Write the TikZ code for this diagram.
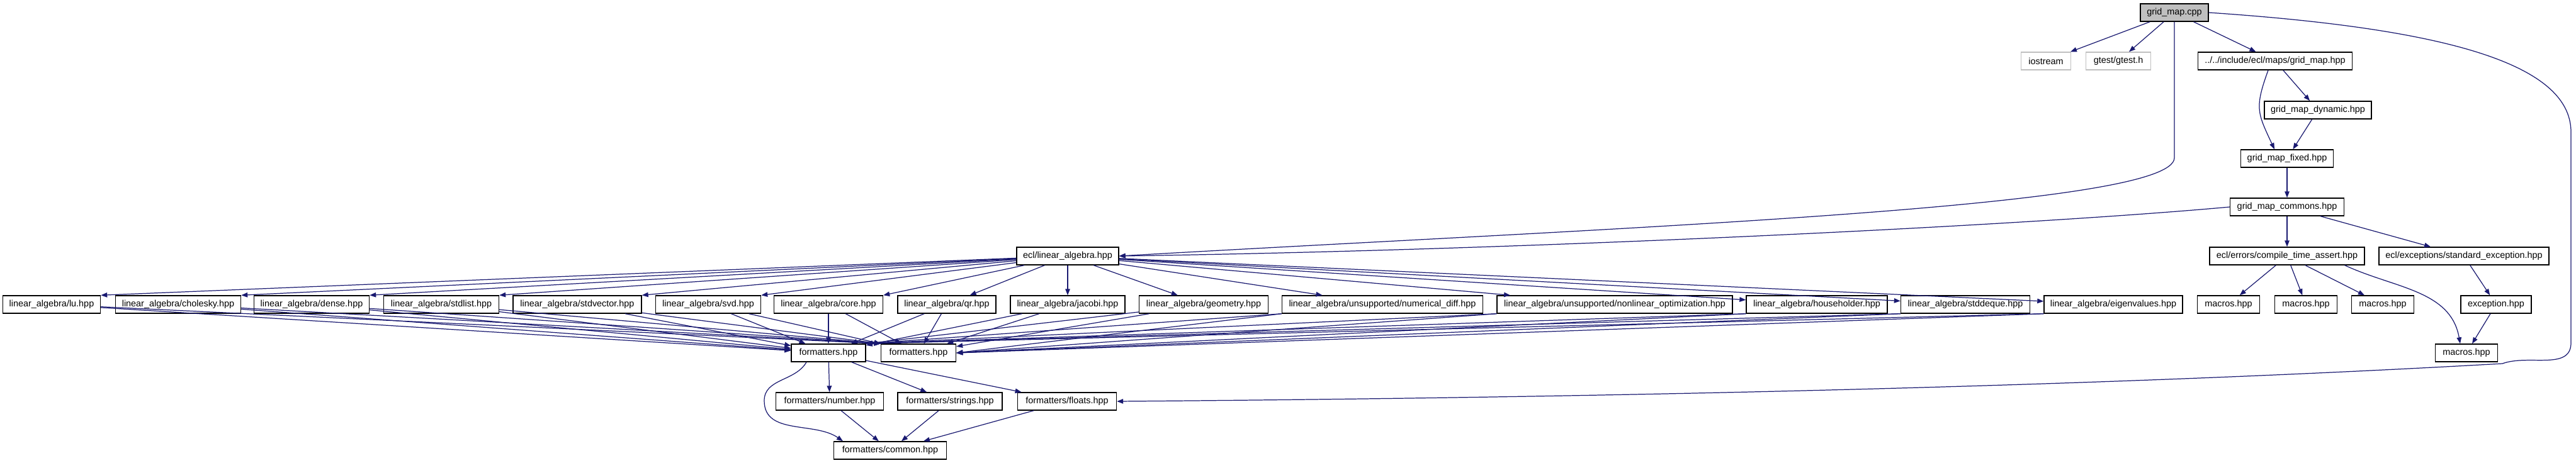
\documentclass[tikz,border=0pt]{standalone}
\usepackage{fontspec}
\setmainfont{Liberation Sans}
\usepackage{tikz}
\usetikzlibrary{arrows.meta,positioning}
\definecolor{edgeblue}{HTML}{191970}
\definecolor{rootgray}{HTML}{BFBFBF}
\tikzset{
    file/.style={
        draw,line width=0.4pt,
        fill=white,inner sep=0pt,
        minimum height=0.28cm,
        font=\fontsize{4.1}{5}\selectfont
    },
    sysfile/.style={file,draw=rootgray},
    rootfile/.style={file,fill=rootgray},
    dep/.style={->,draw=edgeblue,line width=0.35pt},
    >={Triangle[length=1mm,width=0.75mm]}
}

\begin{document}
\begin{tikzpicture}
\useasboundingbox (0,0) rectangle (40.92,-7.36);
\node[rootfile,minimum width=1.08cm] (cpp) at (34.54,-0.20) {grid\_map.cpp};
\node[sysfile,minimum width=0.79cm] (iostream) at (32.50,-0.97) {iostream};
\node[sysfile,minimum width=1.03cm] (gtest) at (33.65,-0.97) {gtest/gtest.h};
\node[file,minimum width=2.45cm] (gridmap) at (36.14,-0.97) {../../include/ecl/maps/grid\_map.hpp};
\node[file,minimum width=1.70cm] (dynamic) at (36.82,-1.75) {grid\_map\_dynamic.hpp};
\node[file,minimum width=1.47cm] (fixed) at (36.33,-2.52) {grid\_map\_fixed.hpp};
\node[file,minimum width=1.81cm] (commons) at (36.33,-3.29) {grid\_map\_commons.hpp};
\node[file,minimum width=1.62cm] (linalg) at (16.96,-4.07) {ecl/linear\_algebra.hpp};
\node[file,minimum width=2.46cm] (cta) at (36.33,-4.07) {ecl/errors/compile\_time\_assert.hpp};
\node[file,minimum width=2.70cm] (stdexc) at (39.14,-4.07) {ecl/exceptions/standard\_exception.hpp};
\foreach \n/\x/\w/\f in {lu/0.82/1.55/lu,chol/2.83/1.99/cholesky,dense/4.95/1.83/dense,
    stdlist/7.01/1.83/stdlist,stdvec/9.17/2.04/stdvector,svd/11.25/1.67/svd,
    core/13.16/1.73/core,qr/15.04/1.56/qr,jacobi/16.96/1.82/jacobi,geom/19.12/2.05/geometry,
    numdiff/21.96/3.19/{unsupported/numerical\_diff},
    nonlin/25.65/3.74/{unsupported/nonlinear\_optimization},
    house/28.86/2.24/householder,deque/31.22/2.05/stddeque,eigen/33.57/2.20/eigenvalues}
    \node[file,minimum width=\w cm] (la_\n) at (\x,-4.84) {linear\_algebra/\f.hpp};
\foreach \n/\x in {A/35.40,B/36.63,C/37.85}
    \node[file,minimum width=0.99cm] (mac\n) at (\x,-4.84) {macros.hpp};
\node[file,minimum width=1.12cm] (exception) at (39.65,-4.84) {exception.hpp};
\node[file,minimum width=0.99cm] (macD) at (39.18,-5.61) {macros.hpp};
\node[file,minimum width=1.18cm] (fmtA) at (13.16,-5.61) {formatters.hpp};
\node[file,minimum width=1.19cm] (fmtB) at (14.59,-5.61) {formatters.hpp};
\node[file,minimum width=1.71cm] (number) at (13.18,-6.38) {formatters/number.hpp};
\node[file,minimum width=1.66cm] (strings) at (15.09,-6.38) {formatters/strings.hpp};
\node[file,minimum width=1.57cm] (floats) at (16.95,-6.38) {formatters/floats.hpp};
\node[file,minimum width=1.79cm] (common) at (14.14,-7.16) {formatters/common.hpp};

\draw[dep] (cpp) -- (iostream);
\draw[dep] (cpp) -- (gtest);
\draw[dep] (cpp) -- (gridmap);
\draw[dep] (cpp.south) -- ++(0,-2.16) .. controls (34.54,-3.3) and (26,-3.6) .. (linalg.east);
\draw[dep] (cpp.east) .. controls (38.8,-0.45) and (40.84,-1.0) .. (40.84,-2.1) -- (40.84,-5.45)
    to[out=-90,in=20] (39.75,-5.78) .. controls (35,-6.05) and (28,-6.3) .. (floats.east);
\draw[dep] (gridmap) -- (dynamic);
\draw[dep] ([xshift=-0.11cm]gridmap.south) to[out=-110,in=115,looseness=1.3] ([xshift=-0.2cm]fixed.north);
\draw[dep] (dynamic) -- (fixed);
\draw[dep] (fixed) -- (commons);
\draw[dep] (commons.west) .. controls (32,-3.6) and (24,-3.98) .. (linalg.east);
\draw[dep] (commons) -- (cta);
\draw[dep] (commons) -- (stdexc);
\foreach \n in {A,B,C}
    \draw[dep] (cta) -- (mac\n);
\draw[dep] ([xshift=-0.32cm]cta.south east) to[out=-25,in=100] ([xshift=-0.1cm]macD.north);
\draw[dep] (stdexc) -- (exception);
\draw[dep] (exception) -- (macD);
\foreach \n in {lu,chol,dense,stdlist,stdvec,svd,core}
    \draw[dep] (linalg) -- (la_\n.north east);
\foreach \n in {qr,jacobi,geom,numdiff,nonlin,house,deque,eigen}
    \draw[dep] (linalg) -- (la_\n);
\foreach \n in {lu,chol,dense,stdlist,stdvec,svd} {
    \draw[dep] (la_\n) -- (fmtA);
    \draw[dep] (la_\n) -- (fmtB.north west);
}
\foreach \n in {core,qr,jacobi} {
    \draw[dep] (la_\n) -- (fmtA);
    \draw[dep] (la_\n) -- (fmtB);
}
\draw[dep] (la_geom) -- (fmtA.north east);
\draw[dep] (la_geom) -- (fmtB);
\foreach \n in {numdiff,nonlin,house,deque,eigen} {
    \draw[dep] (la_\n.south west) -- (fmtA.north east);
    \draw[dep] (la_\n.south west) -- (fmtB.east);
}
\draw[dep] (fmtA) -- (number);
\draw[dep] (fmtA) -- (strings);
\draw[dep] (fmtA) -- (floats);
\draw[dep] ([xshift=-0.35cm]fmtA.south) to[out=-120,in=90] (12.14,-6.37) to[out=-90,in=145] ([xshift=-0.75cm]common.north);
\draw[dep] (number) -- (common);
\draw[dep] (strings) -- (common);
\draw[dep] (floats) -- (common);
\end{tikzpicture}
\end{document}
